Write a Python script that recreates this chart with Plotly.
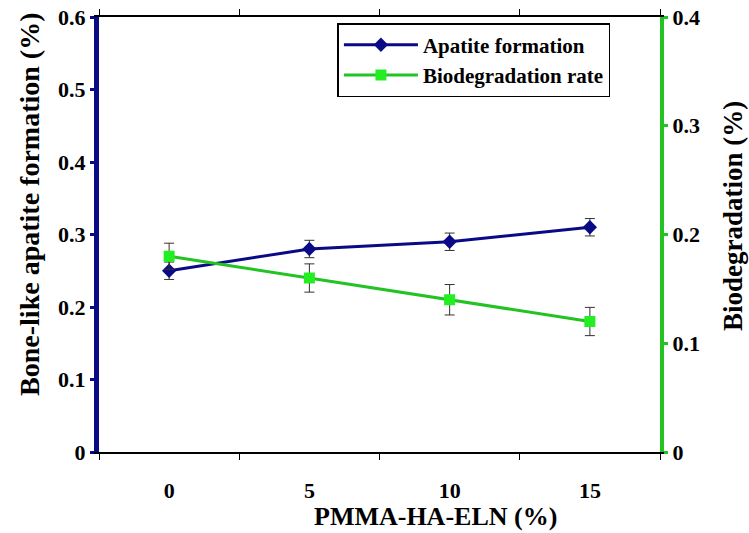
import plotly.graph_objects as go

categories = ["0", "5", "10", "15"]
apatite = [0.25, 0.28, 0.29, 0.31]
apatite_err = [0.012, 0.012, 0.012, 0.012]
biodeg = [0.18, 0.16, 0.14, 0.12]
biodeg_err = [0.012, 0.013, 0.014, 0.013]
left_ticks = [0, 0.1, 0.2, 0.3, 0.4, 0.5, 0.6]
left_labels = ["0", "0.1", "0.2", "0.3", "0.4", "0.5", "0.6"]
right_ticks = [0, 0.1, 0.2, 0.3, 0.4]
right_labels = ["0", "0.1", "0.2", "0.3", "0.4"]

pos = list(range(len(categories)))
FONT = "Liberation Serif, Times New Roman, serif"
NAVY = "#0a0a86"
GREEN = "#22c322"
TICKFONT = dict(family=FONT, size=22, color="black", weight="bold")

fig = go.Figure()
fig.add_trace(go.Scatter(
    x=pos, y=apatite, name="Apatite formation", mode="lines+markers",
    line=dict(color=NAVY, width=3),
    marker=dict(symbol="diamond", size=11, color=NAVY),
    error_y=dict(type="data", array=apatite_err, color="#333333", thickness=1, width=5),
))
fig.add_trace(go.Scatter(
    x=pos, y=biodeg, name="Biodegradation rate", mode="lines+markers", yaxis="y2",
    line=dict(color=GREEN, width=3),
    marker=dict(symbol="square", size=11, color="#22ee22"),
    error_y=dict(type="data", array=biodeg_err, color="#333333", thickness=1, width=5),
))

fig.update_layout(
    width=749, height=533,
    margin=dict(l=99, r=89, t=17, b=81),
    plot_bgcolor="white", paper_bgcolor="white",
    font=dict(family=FONT, size=22, color="black"),
    showlegend=True,
    legend=dict(
        x=0.425, y=0.986, xanchor="left", yanchor="top",
        bordercolor="black", borderwidth=1.5, bgcolor="white",
        font=dict(family=FONT, size=21, color="black", weight="bold"),
        itemwidth=74, tracegroupgap=0,
    ),
    xaxis=dict(
        range=[-0.5, 3.5], tickvals=pos, ticktext=categories,
        ticks="", showgrid=False, zeroline=False, automargin=False,
        showline=True, linecolor="black", linewidth=2, mirror="all",
        tickfont=TICKFONT, ticklabelstandoff=18, ticklabeloverflow="allow",
        minor=dict(tickvals=[-0.5, 0.5, 1.5, 2.5, 3.5], ticks="outside", ticklen=6, tickcolor="black", tickwidth=1),
    ),
    yaxis=dict(
        range=[0, 0.6], tickvals=left_ticks, ticktext=left_labels,
        showgrid=False, zeroline=False, automargin=False,
        showline=True, linecolor=NAVY, linewidth=5,
        ticks="outside", ticklen=4, tickwidth=3, tickcolor=NAVY,
        tickfont=TICKFONT, ticklabeloverflow="allow",
    ),
    yaxis2=dict(
        range=[0, 0.4], tickvals=right_ticks, ticktext=right_labels,
        overlaying="y", side="right", anchor="x", automargin=False,
        showgrid=False, zeroline=False,
        showline=True, linecolor=GREEN, linewidth=4,
        ticks="outside", ticklen=4, tickwidth=3, tickcolor=GREEN,
        tickfont=TICKFONT, ticklabeloverflow="allow",
    ),
    annotations=[
        dict(text="PMMA-HA-ELN (%)", xref="paper", yref="paper", x=0.599, y=0,
             xanchor="center", yanchor="middle", yshift=-64, showarrow=False,
             font=dict(family=FONT, size=26, color="black", weight="bold")),
        dict(text="Bone-like apatite formation (%)", xref="paper", yref="paper", x=0, y=0.568,
             xanchor="center", yanchor="middle", xshift=-69, textangle=-90, showarrow=False,
             font=dict(family=FONT, size=28, color="black", weight="bold")),
        dict(text="Biodegradation (%)", xref="paper", yref="paper", x=1, y=0.5425,
             xanchor="center", yanchor="middle", xshift=73, textangle=-90, showarrow=False,
             font=dict(family=FONT, size=27, color="black", weight="bold")),
    ],
)

# remove the page's default 8px body margin so the figure sits at the window origin
fig.write_html("out.html", config={"displayModeBar": False},
               post_script="document.body.style.margin='0';")
